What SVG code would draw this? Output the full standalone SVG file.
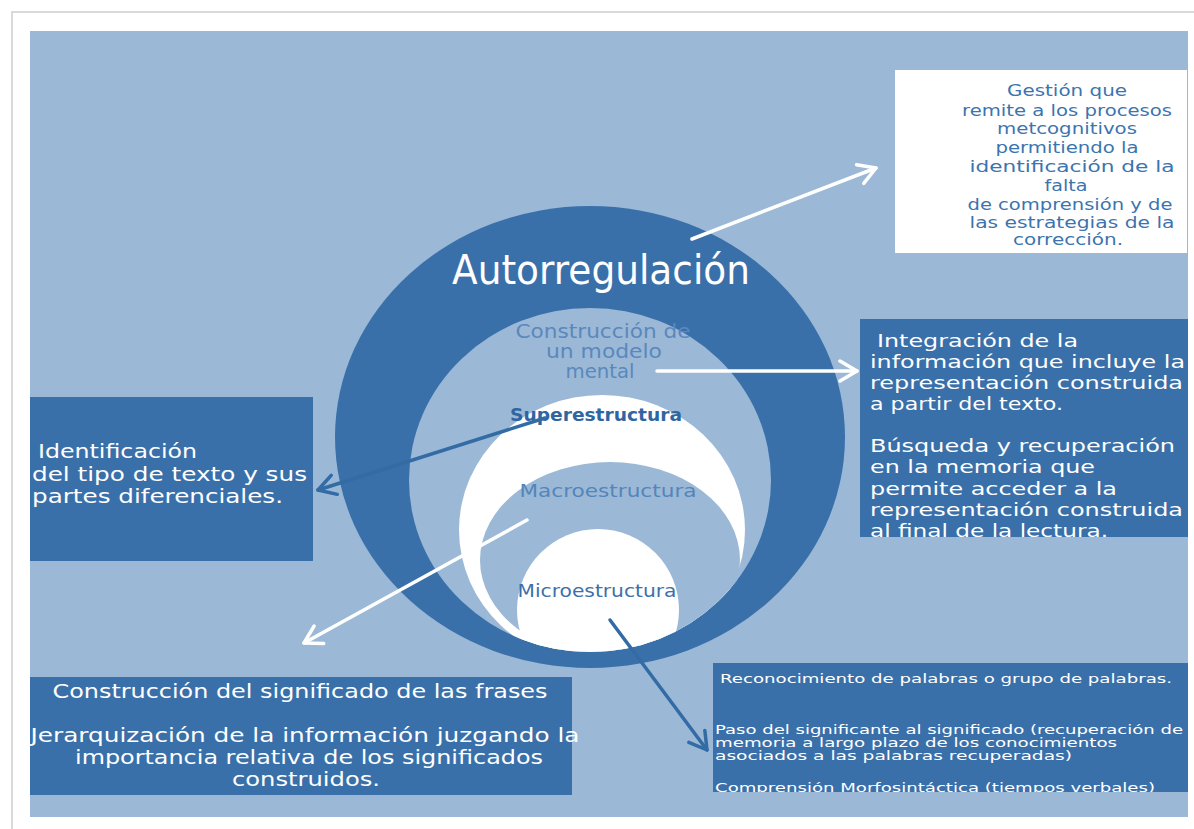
<svg xmlns="http://www.w3.org/2000/svg" width="1194" height="829" viewBox="0 0 1194 829">
<defs>
<style>
.t{font-family:"DejaVu Sans","Liberation Sans",sans-serif;}
.wt{fill:#ffffff}
.box{fill:#3a70aa}
.lt{fill:#9bb9d6}
.gest{fill:#3b74ae;font-size:16.5px;text-anchor:middle}
.integ{fill:#ffffff;font-size:18.5px}
.ident{fill:#ffffff;font-size:20px}
.constr{fill:#ffffff;font-size:19.5px;text-anchor:middle}
.recon{fill:#ffffff;font-size:12.5px}
.circ{text-anchor:middle}
.aw{fill:none;stroke:#ffffff;stroke-width:3.5;stroke-linecap:round}
.ad{fill:none;stroke:#336ba5;stroke-width:3.5;stroke-linecap:round}
</style>
<marker id="ahW" markerWidth="24" markerHeight="24" refX="20" refY="12" orient="auto" markerUnits="userSpaceOnUse"><path d="M3,2 L20,12 L3,22" fill="none" stroke="#ffffff" stroke-width="3.5" stroke-linecap="round" stroke-linejoin="round"/></marker>
<marker id="ahD" markerWidth="24" markerHeight="24" refX="20" refY="12" orient="auto" markerUnits="userSpaceOnUse"><path d="M3,2 L20,12 L3,22" fill="none" stroke="#336ba5" stroke-width="3.5" stroke-linecap="round" stroke-linejoin="round"/></marker>
<clipPath id="clipInner"><ellipse cx="590" cy="480" rx="181" ry="172"/></clipPath>
<clipPath id="clipInteg"><rect x="860" y="319" width="328" height="218"/></clipPath>
<clipPath id="clipRecon"><rect x="713" y="663" width="475" height="129"/></clipPath>
</defs>

<rect x="0" y="0" width="1194" height="829" fill="#ffffff"/>
<rect x="12" y="12" width="1200" height="840" fill="#ffffff" stroke="#d9d9d9" stroke-width="2"/>
<rect x="30" y="31" width="1158" height="786" class="lt"/>

<g id="autorregulacion">
<ellipse cx="590" cy="437" rx="255" ry="231" class="box"/>
<text class="t circ wt" x="601" y="284" font-size="40" textLength="298" lengthAdjust="spacingAndGlyphs">Autorregulación</text>
</g>

<g id="modelo-mental">
<ellipse cx="590" cy="480" rx="181" ry="172" class="lt"/>
<text class="t circ" fill="#5a88bc" font-size="19" x="603" y="338" textLength="175" lengthAdjust="spacingAndGlyphs">Construcción de</text>
<text class="t circ" fill="#5a88bc" font-size="19" x="604" y="358" textLength="116" lengthAdjust="spacingAndGlyphs">un modelo</text>
<text class="t circ" fill="#5a88bc" font-size="19" x="600" y="378" textLength="69" lengthAdjust="spacingAndGlyphs">mental</text>
</g>

<g clip-path="url(#clipInner)">
<g id="superestructura">
<ellipse cx="602" cy="530" rx="143" ry="135" fill="#ffffff"/>
</g>
<g id="macroestructura">
<ellipse cx="610" cy="560" rx="130" ry="98" class="lt"/>
</g>
<g id="microestructura">
<circle cx="598" cy="610" r="81" fill="#ffffff"/>
</g>
</g>
<text class="t circ" fill="#2f66a2" font-size="18" font-weight="600" x="596" y="421" textLength="172" lengthAdjust="spacingAndGlyphs">Superestructura</text>
<text class="t circ" fill="#5485ba" font-size="18" x="608" y="497" textLength="177" lengthAdjust="spacingAndGlyphs">Macroestructura</text>
<text class="t circ" fill="#3d70a8" font-size="18" x="597" y="597" textLength="159" lengthAdjust="spacingAndGlyphs">Microestructura</text>

<g id="gestion">
<rect x="895" y="70" width="292" height="183" fill="#ffffff"/>
<text class="t gest" x="1067" y="96" textLength="120" lengthAdjust="spacingAndGlyphs">Gestión que</text>
<text class="t gest" x="1067" y="116" textLength="210" lengthAdjust="spacingAndGlyphs">remite a los procesos</text>
<text class="t gest" x="1067" y="134" textLength="140" lengthAdjust="spacingAndGlyphs">metcognitivos</text>
<text class="t gest" x="1067" y="153" textLength="143" lengthAdjust="spacingAndGlyphs">permitiendo la</text>
<text class="t gest" x="1072" y="172" textLength="205" lengthAdjust="spacingAndGlyphs">identificación de la</text>
<text class="t gest" x="1066" y="191" textLength="43" lengthAdjust="spacingAndGlyphs">falta</text>
<text class="t gest" x="1070" y="210" textLength="205" lengthAdjust="spacingAndGlyphs">de comprensión y de</text>
<text class="t gest" x="1072" y="228" textLength="205" lengthAdjust="spacingAndGlyphs">las estrategias de la</text>
<text class="t gest" x="1068" y="245" textLength="110" lengthAdjust="spacingAndGlyphs">corrección.</text>
</g>

<g id="integracion">
<rect x="860" y="319" width="328" height="218" class="box"/>
<g clip-path="url(#clipInteg)">
<text class="t integ" x="877" y="347" textLength="201" lengthAdjust="spacingAndGlyphs">Integración de la</text>
<text class="t integ" x="870" y="368" textLength="315" lengthAdjust="spacingAndGlyphs">información que incluye la</text>
<text class="t integ" x="870" y="389" textLength="313" lengthAdjust="spacingAndGlyphs">representación construida</text>
<text class="t integ" x="870" y="410" textLength="193" lengthAdjust="spacingAndGlyphs">a partir del texto.</text>
<text class="t integ" x="870" y="452" textLength="305" lengthAdjust="spacingAndGlyphs">Búsqueda y recuperación</text>
<text class="t integ" x="870" y="473" textLength="225" lengthAdjust="spacingAndGlyphs">en la memoria que</text>
<text class="t integ" x="870" y="495" textLength="247" lengthAdjust="spacingAndGlyphs">permite acceder a la</text>
<text class="t integ" x="870" y="516" textLength="313" lengthAdjust="spacingAndGlyphs">representación construida</text>
<text class="t integ" x="870" y="537" textLength="238" lengthAdjust="spacingAndGlyphs">al final de la lectura.</text>
</g>
</g>

<g id="identificacion">
<rect x="30" y="397" width="283" height="164" class="box"/>
<text class="t ident" x="38" y="458" textLength="159" lengthAdjust="spacingAndGlyphs">Identificación</text>
<text class="t ident" x="32" y="481" textLength="275" lengthAdjust="spacingAndGlyphs">del tipo de texto y sus</text>
<text class="t ident" x="32" y="503" textLength="251" lengthAdjust="spacingAndGlyphs">partes diferenciales.</text>
</g>

<g id="construccion-significado">
<rect x="30" y="677" width="542" height="118" class="box"/>
<text class="t constr" x="300" y="698" textLength="495" lengthAdjust="spacingAndGlyphs">Construcción del significado de las frases</text>
<text class="t constr" x="305" y="742" textLength="549" lengthAdjust="spacingAndGlyphs">Jerarquización de la información juzgando la</text>
<text class="t constr" x="309" y="764" textLength="468" lengthAdjust="spacingAndGlyphs">importancia relativa de los significados</text>
<text class="t constr" x="306" y="786" textLength="148" lengthAdjust="spacingAndGlyphs">construidos.</text>
</g>

<g id="reconocimiento">
<rect x="713" y="663" width="475" height="129" class="box"/>
<g clip-path="url(#clipRecon)">
<text class="t recon" x="720" y="683" textLength="452" lengthAdjust="spacingAndGlyphs">Reconocimiento de palabras o grupo de palabras.</text>
<text class="t recon" x="715" y="734" textLength="468" lengthAdjust="spacingAndGlyphs">Paso del significante al significado (recuperación de</text>
<text class="t recon" x="715" y="747" textLength="402" lengthAdjust="spacingAndGlyphs">memoria a largo plazo de los conocimientos</text>
<text class="t recon" x="715" y="760" textLength="357" lengthAdjust="spacingAndGlyphs">asociados a las palabras recuperadas)</text>
<text class="t recon" x="715" y="792" textLength="440" lengthAdjust="spacingAndGlyphs">Comprensión Morfosintáctica (tiempos verbales)</text>
</g>
</g>

<g id="connectors">
<path class="aw" d="M692,239 L876,168" marker-end="url(#ahW)"/>
<path class="aw" d="M657,371 L857,371" marker-end="url(#ahW)"/>
<path class="aw" d="M527,520 L304,643" marker-end="url(#ahW)"/>
<path class="ad" d="M610,620 L707,750" marker-end="url(#ahD)"/>
<path class="ad" d="M545,418 L318,490" marker-end="url(#ahD)"/>
</g>
</svg>
